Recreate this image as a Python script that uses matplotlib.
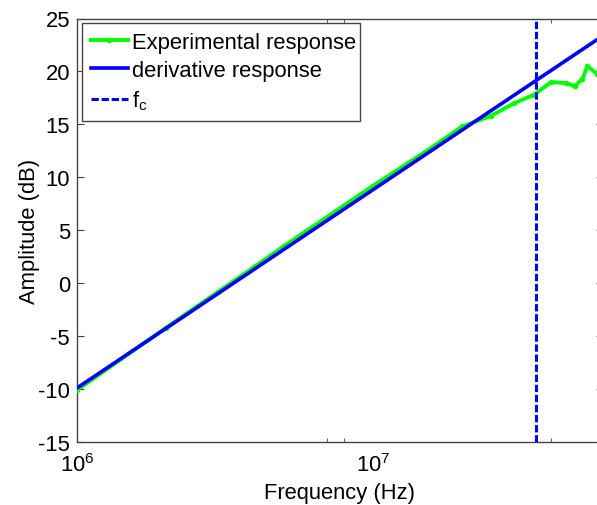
import matplotlib
matplotlib.use("Agg")
import matplotlib.pyplot as plt
from matplotlib.ticker import FixedLocator, FixedFormatter, NullFormatter

plt.rcParams['font.family'] = ['Liberation Sans', 'DejaVu Sans']
plt.rcParams['mathtext.fontset'] = 'custom'
plt.rcParams['mathtext.rm'] = 'Liberation Sans'
plt.rcParams['mathtext.it'] = 'Liberation Sans'
plt.rcParams['axes.unicode_minus'] = False

# ---- data ----
exp_freq = [1e6, 2e6, 3e6, 4e6, 5e6, 1e7, 1.5e7, 2e7, 2.5e7, 3e7, 3.5e7,
            4e7, 4.5e7, 4.8e7, 5.1e7, 5.3e7, 5.7e7, 6e7]
exp_amp = [-10.1, -4.2, -0.8, 1.6, 3.5, 9.2, 12.4, 14.8, 15.8, 17.0, 17.8,
           19.0, 18.9, 18.6, 19.3, 20.5, 19.8, 19.5]
deriv_freq = [1e6, 6e7]
deriv_amp = [-9.9, 23.4]
fc = 3.55e7

x_major = [1e6, 1e7]
x_major_labels = [r'$\mathregular{10^{6}}$', r'$\mathregular{10^{7}}$']
x_minor = [7e6, 8e6, 4e7]
y_ticks = [-15, -10, -5, 0, 5, 10, 15, 20, 25]

FS = 15.8
W, H = 597, 506
fig = plt.figure(figsize=(W / 100, H / 100), dpi=100)
L, R, T, B = 77, 603, 19.5, 443
ax = fig.add_axes([L / W, 1 - B / H, (R - L) / W, (B - T) / H])

ax.set_xscale('log')
ax.plot(exp_freq, exp_amp, color='#00ff00', lw=2.8, marker='o', ms=3.0,
        label='Experimental response', zorder=3)
ax.plot(deriv_freq, deriv_amp, color='#0000ff', lw=2.6,
        label='derivative response', zorder=4)
ax.axvline(fc, color='#0000ff', lw=2.2, ls=(0, (2.4, 0.9)),
           label=r'$\mathregular{f_c}$', zorder=5)

ax.set_xlim(1e6, 10 ** (6 + (R - L) / 296))
ax.set_ylim(-15, 25)

ax.xaxis.set_major_locator(FixedLocator(x_major))
ax.xaxis.set_major_formatter(FixedFormatter(x_major_labels))
ax.xaxis.set_minor_locator(FixedLocator(x_minor))
ax.xaxis.set_minor_formatter(NullFormatter())
ax.set_yticks(y_ticks)

ax.tick_params(axis='both', which='major', direction='in', labelsize=FS,
               top=True, right=True, color='#444444')
ax.tick_params(axis='x', which='major', length=0, pad=8)
ax.tick_params(axis='y', which='major', length=5, pad=5)
ax.tick_params(axis='x', which='minor', direction='in', length=3,
               top=True, color='#444444')

for s in ax.spines.values():
    s.set_color('#444444')
    s.set_linewidth(1.0)

ax.set_xlabel('Frequency (Hz)', fontsize=FS, labelpad=4)
ax.set_ylabel('Amplitude (dB)', fontsize=FS, labelpad=-1)

bx0 = (82 - L) / (R - L)
btop = 1 - (24 - T) / (B - T)
bw = (360 - 82) / (R - L)
leg = ax.legend(loc='upper left', bbox_to_anchor=(bx0, btop - 0.5, bw, 0.5),
                mode='expand', borderaxespad=0, fontsize=FS,
                handlelength=1.7, handletextpad=0.2, labelspacing=0.33,
                borderpad=0.4, fancybox=False, framealpha=1,
                edgecolor='#444444')
leg.get_frame().set_linewidth(1.0)

fig.savefig('out.png', dpi=100)
